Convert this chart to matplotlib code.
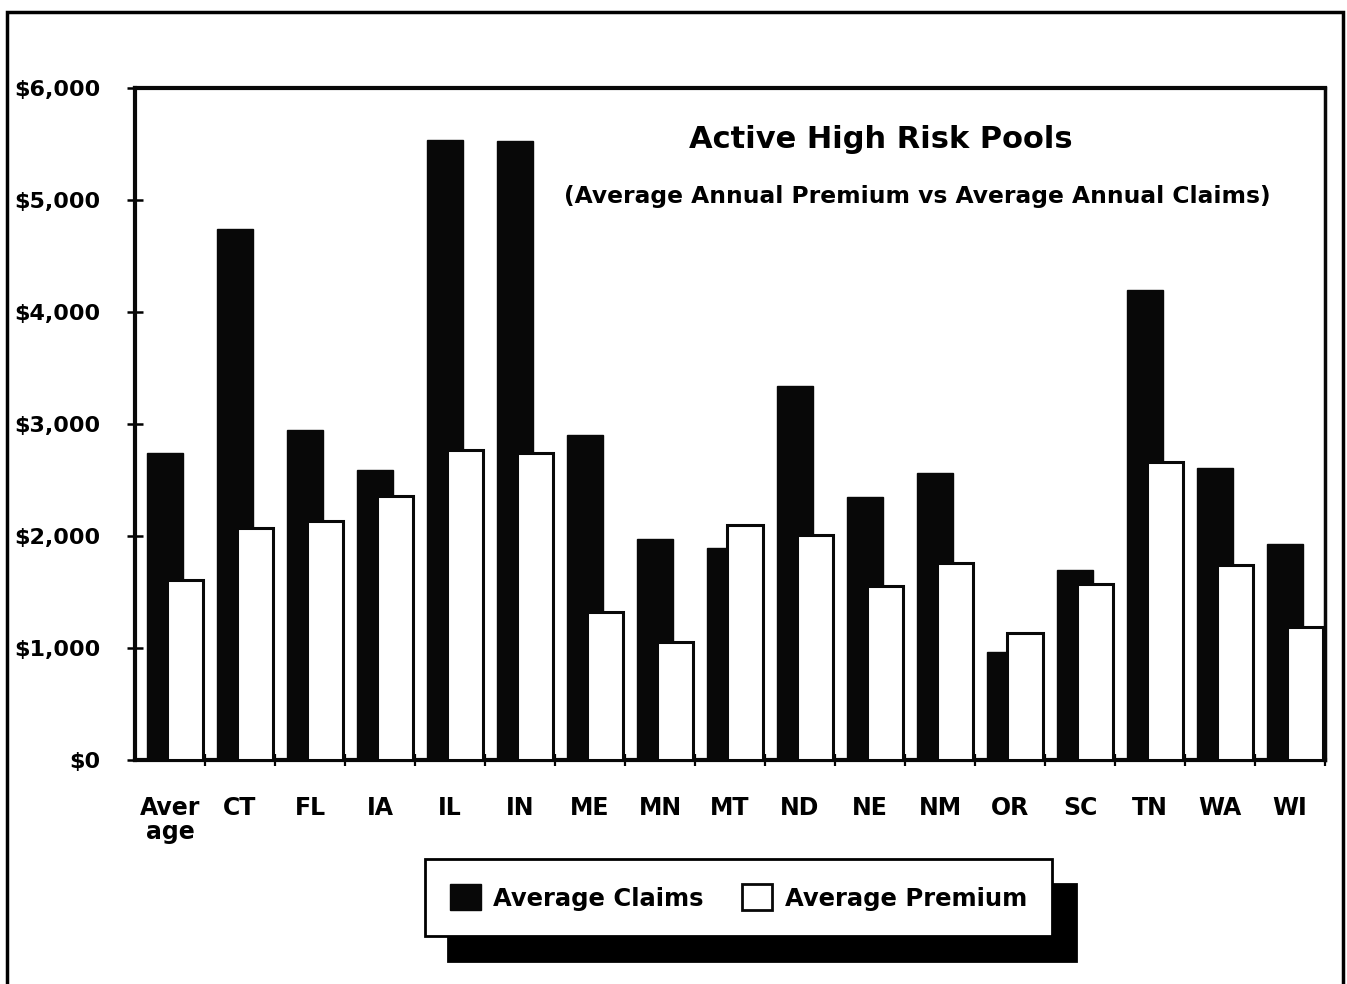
import numpy as np
import matplotlib
matplotlib.use("Agg")
import matplotlib.pyplot as plt
from matplotlib.patches import Rectangle, Patch

# average annual claims vs premium per state pool (dollars)
states = ["Aver\nage", "CT", "FL", "IA", "IL", "IN", "ME", "MN", "MT",
          "ND", "NE", "NM", "OR", "SC", "TN", "WA", "WI"]
avg_claims = [2745, 4745, 2950, 2590, 5535, 5525, 2905, 1975, 1890,
              3340, 2350, 2560, 960, 1700, 4200, 2610, 1930]
avg_premium = [1610, 2075, 2130, 2355, 2765, 2745, 1320, 1050, 2095,
               2005, 1550, 1760, 1135, 1575, 2660, 1740, 1190]
y_ticks = [0, 1000, 2000, 3000, 4000, 5000, 6000]
y_labels = ["$0", "$1,000", "$2,000", "$3,000", "$4,000", "$5,000", "$6,000"]

plt.rcParams["font.family"] = ["DejaVu Sans"]
plt.rcParams["font.weight"] = "bold"

W, H = 1347, 984
fig = plt.figure(figsize=(W / 100, H / 100), dpi=100)
fig.patch.set_facecolor("white")

# page frame around the whole chart
fig.patches.append(Rectangle((7 / W, -0.02), (1343 - 7) / W, 1.02 - 12 / H,
                             transform=fig.transFigure, fill=False,
                             edgecolor="black", linewidth=2.5))

ax = fig.add_axes([135 / W, (H - 760) / H, (1325 - 135) / W, (760 - 88) / H])
x = np.arange(len(states))
bw = 0.51
ax.bar(x - 0.07, avg_claims, width=bw, color="#080808", edgecolor="#080808",
       linewidth=1, label="Average Claims", zorder=2)
ax.bar(x + 0.215, avg_premium, width=bw, color="white", edgecolor="#080808",
       linewidth=2.2, label="Average Premium", zorder=3)

ax.set_xlim(-0.5, len(states) - 0.5)
ax.set_ylim(0, 6000)
ax.set_yticks(y_ticks)
ax.set_yticklabels(y_labels, fontsize=16, fontweight="bold")
ax.set_xticks(x)
ax.set_xticklabels(states, fontsize=17, fontweight="bold", linespacing=1.0)
ax.set_xticks(np.arange(len(states)) + 0.5, minor=True)
ax.tick_params(axis="x", which="major", length=0, pad=26)
ax.tick_params(axis="x", which="minor", direction="inout", length=9, width=1.6)
ax.tick_params(axis="y", direction="inout", length=12, width=1.8, pad=19)
for side, lw in [("left", 3), ("bottom", 3), ("top", 3), ("right", 2.5)]:
    ax.spines[side].set_linewidth(lw)
    ax.spines[side].set_color("#080808")

ax.text(0.627, 0.923, "Active High Risk Pools", transform=ax.transAxes,
        ha="center", va="center", fontsize=22, fontweight="bold")
ax.text(0.657, 0.838, "(Average Annual Premium vs Average Annual Claims)",
        transform=ax.transAxes, ha="center", va="center", fontsize=16.8,
        fontweight="bold")

handles = [Patch(facecolor="#080808", edgecolor="#080808"),
           Patch(facecolor="white", edgecolor="#080808", linewidth=2)]
leg = fig.legend(handles, ["Average Claims", "Average Premium"], loc="center",
                 bbox_to_anchor=(738.5 / W, (H - 897.5) / H),
                 bbox_transform=fig.transFigure, ncol=2, fontsize=17.5,
                 frameon=True, fancybox=False, handlelength=1.25,
                 handleheight=1.25, handletextpad=0.5, columnspacing=1.6,
                 borderpad=1.05, borderaxespad=0,
                 shadow={"ox": 17, "oy": -18, "facecolor": "black",
                         "edgecolor": "black", "alpha": 1})
leg.get_frame().set_edgecolor("black")
leg.get_frame().set_linewidth(2)

fig.savefig("out.png", dpi=100)
